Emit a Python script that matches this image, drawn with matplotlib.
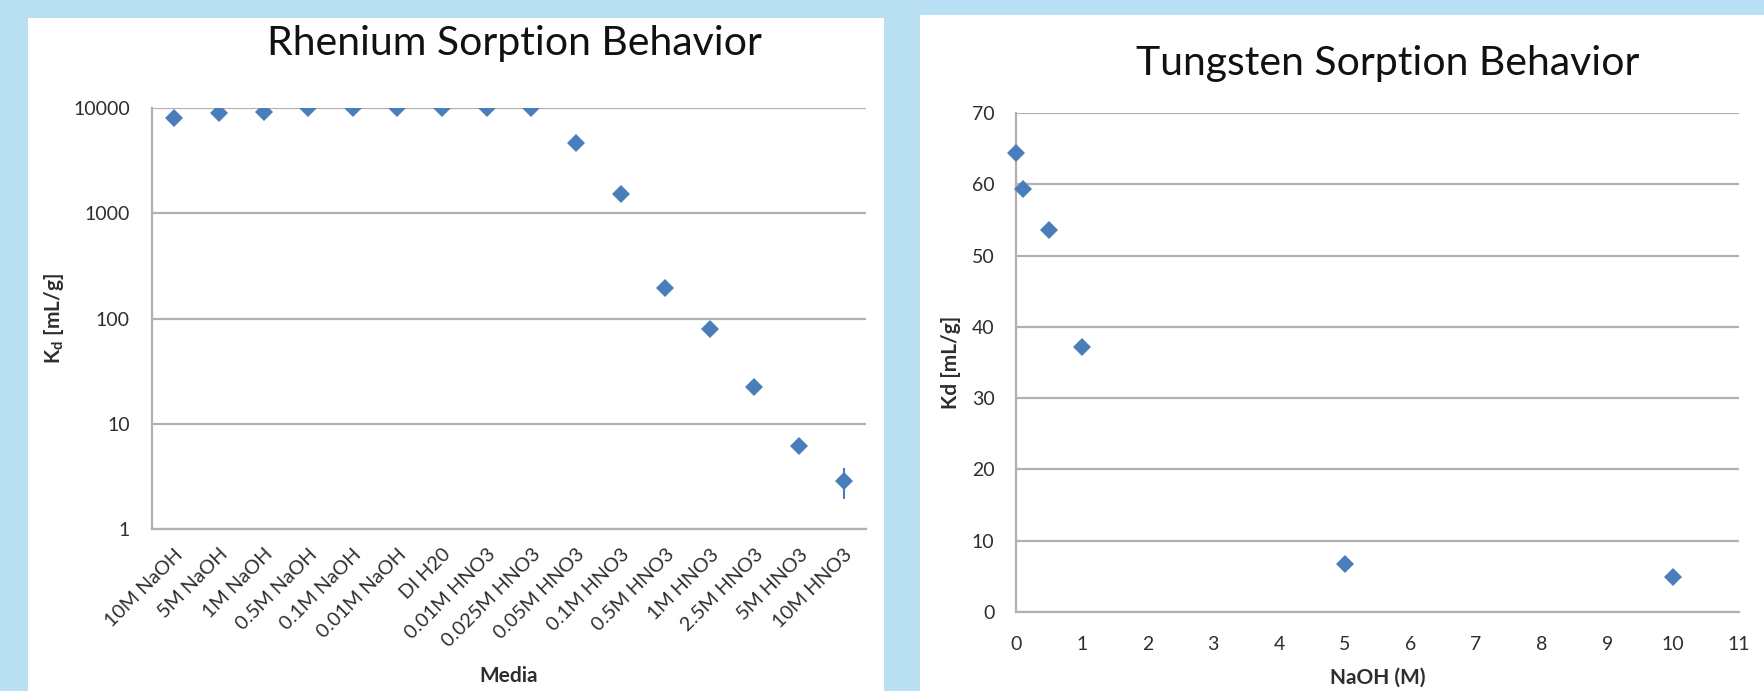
import numpy as np
import matplotlib
matplotlib.use("Agg")
import matplotlib.pyplot as plt
from matplotlib.patches import Rectangle

plt.rcParams['font.family'] = ['Lato', 'DejaVu Sans']
plt.rcParams['mathtext.fontset'] = 'custom'
plt.rcParams['mathtext.rm'] = 'Lato'
plt.rcParams['mathtext.bf'] = 'Lato:bold'

# =========================
# Data
# =========================

rh_media = ["10M NaOH", "5M NaOH", "1M NaOH", "0.5M NaOH", "0.1M NaOH",
            "0.01M NaOH", "DI H20", "0.01M HNO3", "0.025M HNO3", "0.05M HNO3",
            "0.1M HNO3", "0.5M HNO3", "1M HNO3", "2.5M HNO3", "5M HNO3",
            "10M HNO3"]
rh_kd = [8050, 9000, 9150, 10050, 10050, 10050, 10050, 10050, 10050,
         4620, 1540, 196, 80, 22.2, 6.1, 2.87]
rh_err = [0, 0, 0, 0, 0, 0, 0, 0, 0, 0, 0, 0, 0, 0, 0, 0.95]
rh_yticks = [1, 10, 100, 1000, 10000]

w_naoh = [0, 0.1, 0.5, 1, 5, 10]
w_kd = [64.4, 59.4, 53.6, 37.2, 6.8, 4.9]
w_yticks = [0, 10, 20, 30, 40, 50, 60, 70]
w_xticks = [0, 1, 2, 3, 4, 5, 6, 7, 8, 9, 10, 11]

blue = "#4a7ebb"
grid_c = "#b8aeae"
txt_c = "#2e2e2e"
W, H = 1765, 691

fig = plt.figure(figsize=(W / 100, H / 100), dpi=100)
fig.patch.set_facecolor("#b9e0f2")

# white panels
fig.patches.append(Rectangle((28 / W, 0), (884 - 28) / W, 1 - 18 / H,
                             transform=fig.transFigure, facecolor="white",
                             edgecolor="none", zorder=-10))
fig.patches.append(Rectangle((920 / W, 0), (W - 920) / W + 0.01, 1 - 15 / H,
                             transform=fig.transFigure, facecolor="white",
                             edgecolor="none", zorder=-10))


def style_axes(ax):
    ax.set_facecolor("none")
    for s in ["top", "right"]:
        ax.spines[s].set_visible(False)
    for s in ["left", "bottom"]:
        ax.spines[s].set_color(grid_c)
        ax.spines[s].set_linewidth(1.6)
    ax.grid(axis="y", color=grid_c, linewidth=1.6)
    ax.set_axisbelow(True)
    ax.tick_params(colors=txt_c, length=0, labelsize=14)


# =========================
# Rhenium
# =========================
L0, L1, T1, B1 = 152, 866, 108, 529
ax1 = fig.add_axes([L0 / W, 1 - B1 / H, (L1 - L0) / W, (B1 - T1) / H])
style_axes(ax1)
xpos = np.arange(len(rh_media))
ax1.set_yscale("log")
ax1.errorbar(xpos, rh_kd, yerr=rh_err, fmt="D", color=blue, ecolor=blue,
             markersize=9.5, markeredgewidth=0, elinewidth=1.5, capsize=0,
             zorder=3)
ax1.set_ylim(1, 10000)
ax1.set_xlim(-0.5, len(rh_media) - 0.5)
ax1.set_yticks(rh_yticks)
ax1.set_yticklabels([str(v) for v in rh_yticks])
ax1.yaxis.set_minor_locator(matplotlib.ticker.NullLocator())
ax1.set_xticks(xpos)
ax1.set_xticklabels(rh_media, rotation=45, ha="right", va="top",
                    rotation_mode="anchor", fontsize=14.2)
ax1.tick_params(axis="x", pad=12)
ax1.tick_params(axis="y", pad=16)
ax1.set_title("Rhenium Sorption Behavior", fontsize=29.5, color="#111111",
              pad=0, x=(514 - L0) / (L1 - L0), y=1 + (T1 - 55) / (B1 - T1))
ax1.set_ylabel(r"K$_{\mathbf{d}}$ [mL/g]", fontsize=15, fontweight="bold",
               color=txt_c)
ax1.yaxis.set_label_coords(-(L0 - 66) / (L1 - L0), 0.5)
ax1.set_xlabel("Media", fontsize=15, fontweight="bold", color=txt_c)
ax1.xaxis.set_label_coords(0.5, -(666 - B1) / (B1 - T1))

# =========================
# Tungsten
# =========================
L0, L1, T1, B1 = 1016, 1739, 113, 612
ax2 = fig.add_axes([L0 / W, 1 - B1 / H, (L1 - L0) / W, (B1 - T1) / H])
style_axes(ax2)
ax2.plot(w_naoh, w_kd, "D", color=blue, markersize=9.5, markeredgewidth=0,
         zorder=3, clip_on=False)
ax2.set_xlim(0, 11)
ax2.set_ylim(0, 70)
ax2.set_yticks(w_yticks)
ax2.set_xticks(w_xticks)
ax2.tick_params(axis="x", labelsize=14, pad=17)
ax2.tick_params(axis="y", labelsize=14, pad=15.5)
ax2.set_title("Tungsten Sorption Behavior", fontsize=29.5, color="#111111",
              pad=0, x=(1388 - L0) / (L1 - L0), y=1 + (T1 - 75) / (B1 - T1))
ax2.set_ylabel("Kd [mL/g]", fontsize=15, fontweight="bold", color=txt_c)
ax2.yaxis.set_label_coords(-(L0 - 961) / (L1 - L0), 0.5)
ax2.set_xlabel("NaOH (M)", fontsize=15, fontweight="bold", color=txt_c)
ax2.xaxis.set_label_coords(0.5, -(668 - B1) / (B1 - T1))

fig.savefig("out.png", dpi=100, facecolor=fig.get_facecolor())
